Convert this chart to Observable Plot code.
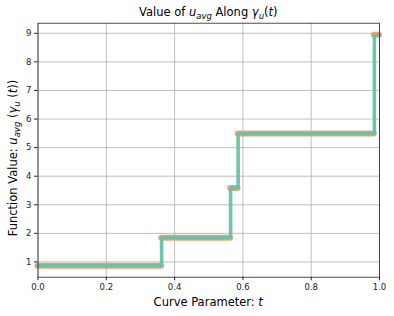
<!DOCTYPE html>
<html>
<head>
<meta charset="utf-8">
<script src="https://cdn.jsdelivr.net/npm/d3@7"></script>
<script src="https://cdn.jsdelivr.net/npm/@observablehq/plot@0.6"></script>
<style>
  html, body { margin: 0; padding: 0; background: #fff; }
  #chart { width: 394px; height: 316px; }
  svg text { font-family: "DejaVu Sans", sans-serif; }
</style>
</head>
<body>
<div id="chart"></div>
<script>
// Step breakpoints (curve parameter t) and the constant value on each interval
const tBreaks = [0, 0.362, 0.564, 0.586, 0.985, 1.0];
const levels = [0.87, 1.85, 3.59, 5.49, 8.95];
const xTicks = [0, 0.2, 0.4, 0.6, 0.8, 1.0];
const yTicks = [1, 2, 3, 4, 5, 6, 7, 8, 9];

const segments = levels.map((v, i) => ({ x1: tBreaks[i], x2: tBreaks[i + 1], y: v }));
const stepPts = levels.map((v, i) => ({ t: tBreaks[i], y: v }));
stepPts.push({ t: tBreaks[tBreaks.length - 1], y: levels[levels.length - 1] });

const W = 394, H = 316;
const mL = 37.5, mR = 15, mT = 22.7, mB = 39.3;

const plot = Plot.plot({
  width: W,
  height: H,
  marginLeft: mL,
  marginRight: mR,
  marginTop: mT,
  marginBottom: mB,
  style: { fontFamily: "DejaVu Sans, sans-serif", fontSize: "8.5px", background: "#fff", overflow: "visible" },
  x: { domain: [0, 1], ticks: xTicks, tickFormat: d3.format(".1f"), label: null },
  y: { domain: [0.466, 9.354], ticks: yTicks, tickFormat: d3.format("d"), label: null },
  marks: [
    Plot.gridX(xTicks, { stroke: "#b0b0b0", strokeOpacity: 1, strokeWidth: 0.8 }),
    Plot.gridY(yTicks, { stroke: "#b0b0b0", strokeOpacity: 1, strokeWidth: 0.8 }),
    Plot.ruleY(segments, { x1: "x1", x2: "x2", y: "y", stroke: "#fc8d62", strokeWidth: 6, strokeLinecap: "round", strokeOpacity: 0.85 }),
    Plot.line(stepPts, { x: "t", y: "y", curve: "step-after", stroke: "#66c2a5", strokeWidth: 3.6, strokeLinejoin: "miter", strokeOpacity: 0.95 }),
    Plot.frame({ stroke: "#222", strokeWidth: 0.8 }),
    Plot.axisX(xTicks, { tickSize: 3.5, tickPadding: 3, fontSize: 8.5, fill: "#222", stroke: "#222", tickFormat: d3.format(".1f"), label: null }),
    Plot.axisY(yTicks, { tickSize: 3.5, tickPadding: 3, fontSize: 8.5, fill: "#222", stroke: "#222", tickFormat: d3.format("d"), label: null })
  ]
});

document.getElementById("chart").appendChild(plot);

// Titles and axis labels with math-style subscripts
const svg = d3.select(plot);
const plotCx = mL + (W - mL - mR) / 2;
const FS = 11.5, SUB = 8.5;

const title = svg.append("text")
  .attr("x", plotCx).attr("y", 16)
  .attr("text-anchor", "middle")
  .attr("font-size", FS).attr("fill", "#000");
title.append("tspan").text("Value of ");
title.append("tspan").attr("font-style", "italic").text("u");
title.append("tspan").attr("font-style", "italic").attr("font-size", SUB).attr("dy", 2.5).text("avg");
title.append("tspan").attr("dy", -2.5).text(" Along ");
title.append("tspan").attr("font-style", "italic").text("γ");
title.append("tspan").attr("font-style", "italic").attr("font-size", SUB).attr("dy", 2.5).text("u");
title.append("tspan").attr("dy", -2.5).text("(");
title.append("tspan").attr("font-style", "italic").text("t");
title.append("tspan").text(")");

const xl = svg.append("text")
  .attr("x", plotCx).attr("y", 306)
  .attr("text-anchor", "middle")
  .attr("font-size", FS).attr("fill", "#000");
xl.append("tspan").text("Curve Parameter: ");
xl.append("tspan").attr("font-style", "italic").text("t");

const yCy = 158;
const yl = svg.append("text")
  .attr("transform", `translate(17,${yCy}) rotate(-90)`)
  .attr("text-anchor", "middle")
  .attr("font-size", FS).attr("fill", "#000");
yl.append("tspan").text("Function Value: ");
yl.append("tspan").attr("font-style", "italic").text("u");
yl.append("tspan").attr("font-style", "italic").attr("font-size", SUB).attr("dy", 2.5).text("avg");
yl.append("tspan").attr("dy", -2.5).text(" (");
yl.append("tspan").attr("font-style", "italic").text("γ");
yl.append("tspan").attr("font-style", "italic").attr("font-size", SUB).attr("dy", 2.5).text("u");
yl.append("tspan").attr("dy", -2.5).text(" (");
yl.append("tspan").attr("font-style", "italic").text("t");
yl.append("tspan").text("))");
</script>
</body>
</html>
